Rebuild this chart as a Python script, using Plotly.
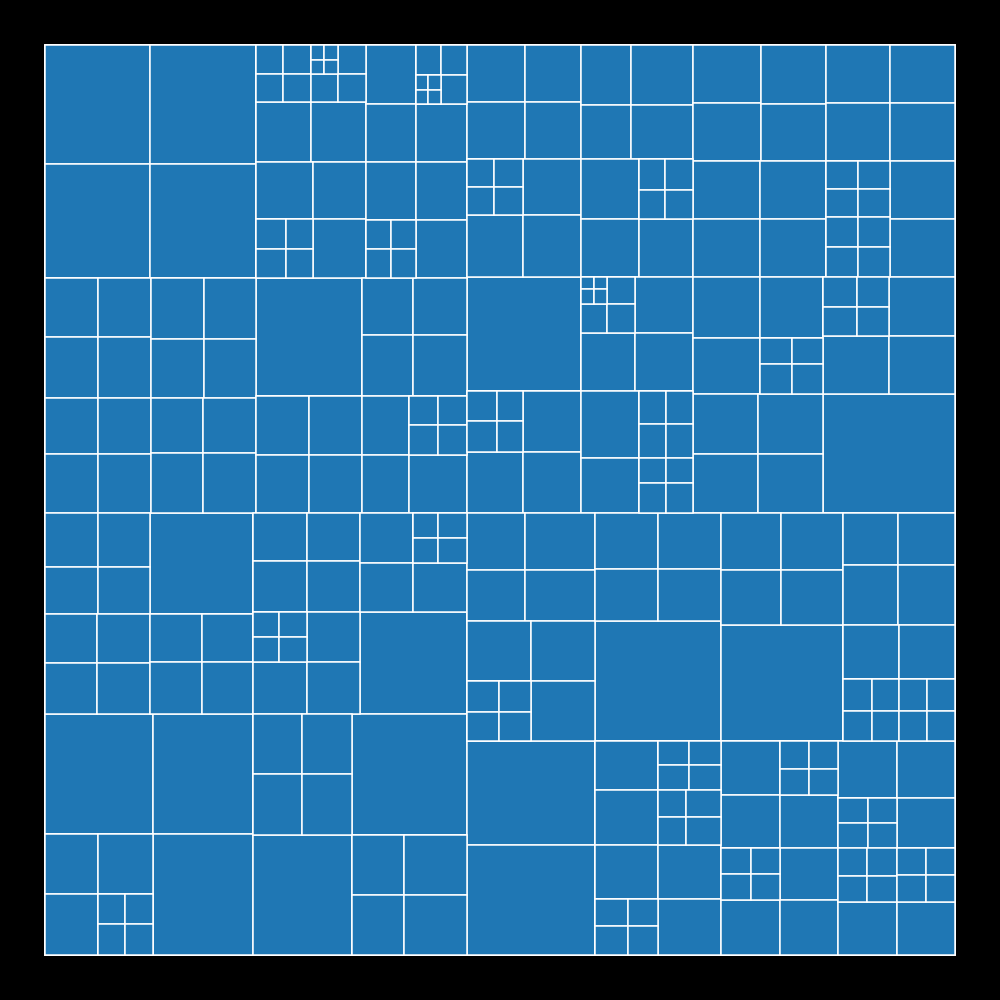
import plotly.graph_objects as go

# Leaf values (cell areas) of the nested tiling; nested lists are groups.
# Quadrant 1 (top-left)
q1_a = [12495, 12614, 11970, 12084]
q1_b_tl = [[783, 812, 756, 784], [[195, 210, 182, 196], 812, 756, 784], 3300, 3300]
q1_b_tr = [2950, [750, 780, [180, 195, 168, 182], 754], 2900, 2958]
q1_b_bl = [3249, 3021, [900, 810, 870, 783], 3127]
q1_b_br = [2900, 2958, [725, 725, 725, 725], 2958]
q1_c = [[3127, 3127, 3233, 3233], [3233, 3172, 3127, 3068],
        [2968, 2968, 3127, 3127], [2860, 2915, 3120, 3180]]
q1_d = [12508, [2907, 3078, 3111, 3294], [3127, 3127, 3074, 3074],
        [2773, [841, 841, 870, 870], 2726, 3364]]

# Quadrant 2 (top-right)
q2_a = [[3306, 3192, 3306, 3192], [3000, 3720, 2700, 3348],
        [[756, 812, 756, 812], 3248, 3472, 3596],
        [3480, [806, 868, 754, 812], 3364, 3132]]
q2_b = [12996, [[[156, 156, 195, 195], 756, 754, 812], 3248, 3132, 3364],
        [[900, 780, 930, 806], 3538, 3416, 3538],
        [3886, [891, 891, 918, 918], 3190, [675, 675, 810, 810]]]
q2_c = [[3944, 3944, 3835, 3705], [3886, 3886, 3828, 3828],
        [3712, 3712, 3770, 3770],
        [[896, 896, 896, 896], [960, 960, 960, 960], 3770, 3770]]
q2_d = [[4087, 3752, 3843, [832, 960, 806, 930]], [3900, 3835, 3900, 3835],
        [[1020, 986, 960, 928], 3828, 3894, 3828], 15708]

# Quadrant 3 (bottom-left)
q3_tl = [[2862, 2491, 2808, 2444], [2548, 2652, 2597, 2703], 10403,
         [2496, 2704, 2448, 2652]]
q3_tr = [[2592, 2754, 2544, 2703], [[650, 650, 700, 700], 2808, 2650, 2756],
         [2650, 2597, [625, 625, 725, 725], 2646], 10914]
q3_bl = [12960, 12000, [3180, 3300, 3233, [810, 840, 837, 868]], 12100]
q3_br = [[2940, 3000, 2989, 3050], 13915, 11880, [3120, 3780, 3120, 3780]]

# Quadrant 4 (bottom-right)
q4_lt = [[3306, 2958, 3990, 3570], [3840, [992, 928, 992, 928], 3840, 3840],
         [3528, 3276, 3528, 3276], 15120]
q4_lb = [13312, 14080,
         [3087, 3465, [744, 775, 768, 800], [756, 784, 945, 980]],
         [3402, [891, 957, 810, 870], 3402, 3528]]
q4_rt = [[3420, 3300, 3534, 3410], 14152, [2860, 2964, 3300, 3420],
         [3024, 3024, [928, 864, 870, 810], [896, 896, 840, 840]]]
q4_rb = [[3186, 3127, [812, 754, 812, 754], 3074],
         [[780, 780, 754, 754], 3245, 3016, 3190],
         [3363, [750, 750, 725, 725], 3306, 2900],
         [[812, 754, 840, 780], 3127, [783, 783, 783, 783], 3074]]

q1 = [q1_a, [q1_b_tl, q1_b_tr, q1_b_bl, q1_b_br], q1_c, q1_d]
q2 = [q2_a, q2_b, q2_c, q2_d]
q3 = [q3_tl, q3_tr, q3_bl, q3_br]
q4 = [q4_lt, q4_lb, q4_rt, q4_rb]
tree = [q1, q2, q3, q4]

ids, parents, values = [], [], []


def add(node, pid):
    nid = "n%d" % len(ids)
    ids.append(nid)
    parents.append(pid)
    if isinstance(node, list):
        values.append(0)
        for ch in node:
            add(ch, nid)
    else:
        values.append(node)


add(tree, "")

fig = go.Figure(go.Treemap(
    ids=ids,
    labels=ids,
    parents=parents,
    values=values,
    branchvalues="remainder",
    sort=False,
    textinfo="none",
    tiling=dict(packing="binary", pad=0),
    marker=dict(colors=["#1f77b4"] * len(ids),
                line=dict(color="white", width=1.5),
                pad=dict(t=0, l=0, r=0, b=0),
                depthfade=False),
    pathbar=dict(visible=False),
    hoverinfo="skip",
))
fig.update_layout(
    width=1000, height=1000,
    margin=dict(l=45, r=45, t=45, b=45),
    paper_bgcolor="black",
    plot_bgcolor="black",
)
fig.write_html("out.html")
